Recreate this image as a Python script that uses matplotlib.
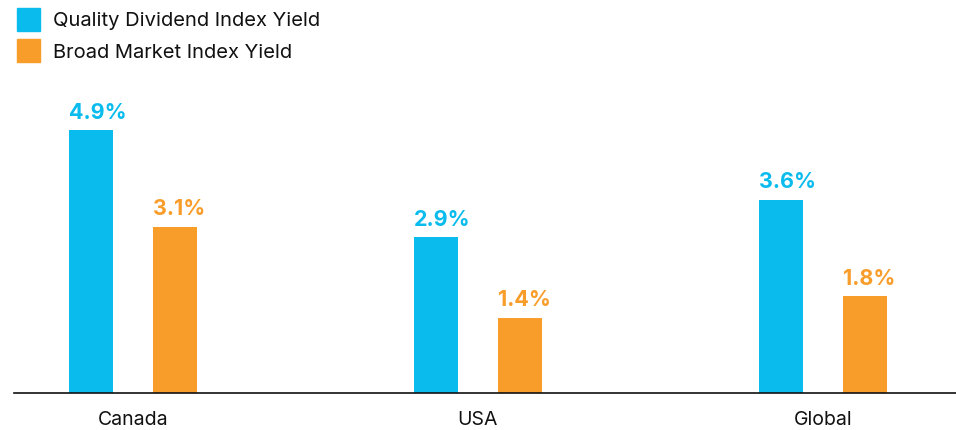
import matplotlib
matplotlib.use("Agg")
import matplotlib.pyplot as plt
import numpy as np
from matplotlib.patches import Rectangle

categories = ["Canada", "USA", "Global"]
series_names = ["Quality Dividend Index Yield", "Broad Market Index Yield"]
quality = [4.9, 2.9, 3.6]
broad = [3.1, 1.4, 1.8]
colors = ["#0ABBEE", "#F99D2A"]

plt.rcParams['font.family'] = ['Inter', 'DejaVu Sans']

fig = plt.figure(figsize=(9.56, 4.30), dpi=100)
ax = fig.add_axes([14/956, 37/430, 942/956, 322/430])

x = np.arange(len(categories))
w = 0.128
off = 0.122
for vals, col, sgn in [(quality, colors[0], -1), (broad, colors[1], 1)]:
    bars = ax.bar(x + sgn * off, vals, width=w, color=col)
    for b, v in zip(bars, vals):
        ax.text(b.get_x(), v + 0.14, f"{v:.1f}%", ha='left', va='bottom',
                color=col, fontsize=15.5, fontweight='bold')

ax.set_xlim(-0.344, 2.386)
ax.set_ylim(0, 6)
ax.set_xticks(x)
ax.set_xticklabels(categories, fontsize=14, color='#111111')
ax.tick_params(axis='x', length=0, pad=13)
ax.set_yticks([])
for s in ['top', 'right', 'left']:
    ax.spines[s].set_visible(False)
ax.spines['bottom'].set_color('#111111')
ax.spines['bottom'].set_linewidth(1.2)

# legend
for i, (name, col) in enumerate(zip(series_names, colors)):
    y0 = 430 - (8 + 31 * i) - 23
    fig.patches.append(Rectangle((17/956, y0/430), 23/956, 23/430,
                                 transform=fig.transFigure, color=col))
    fig.text(53/956, (y0 + 9.5)/430, name, ha='left', va='center',
             fontsize=14.5, color='#111111')

fig.savefig("out.png", dpi=100)
